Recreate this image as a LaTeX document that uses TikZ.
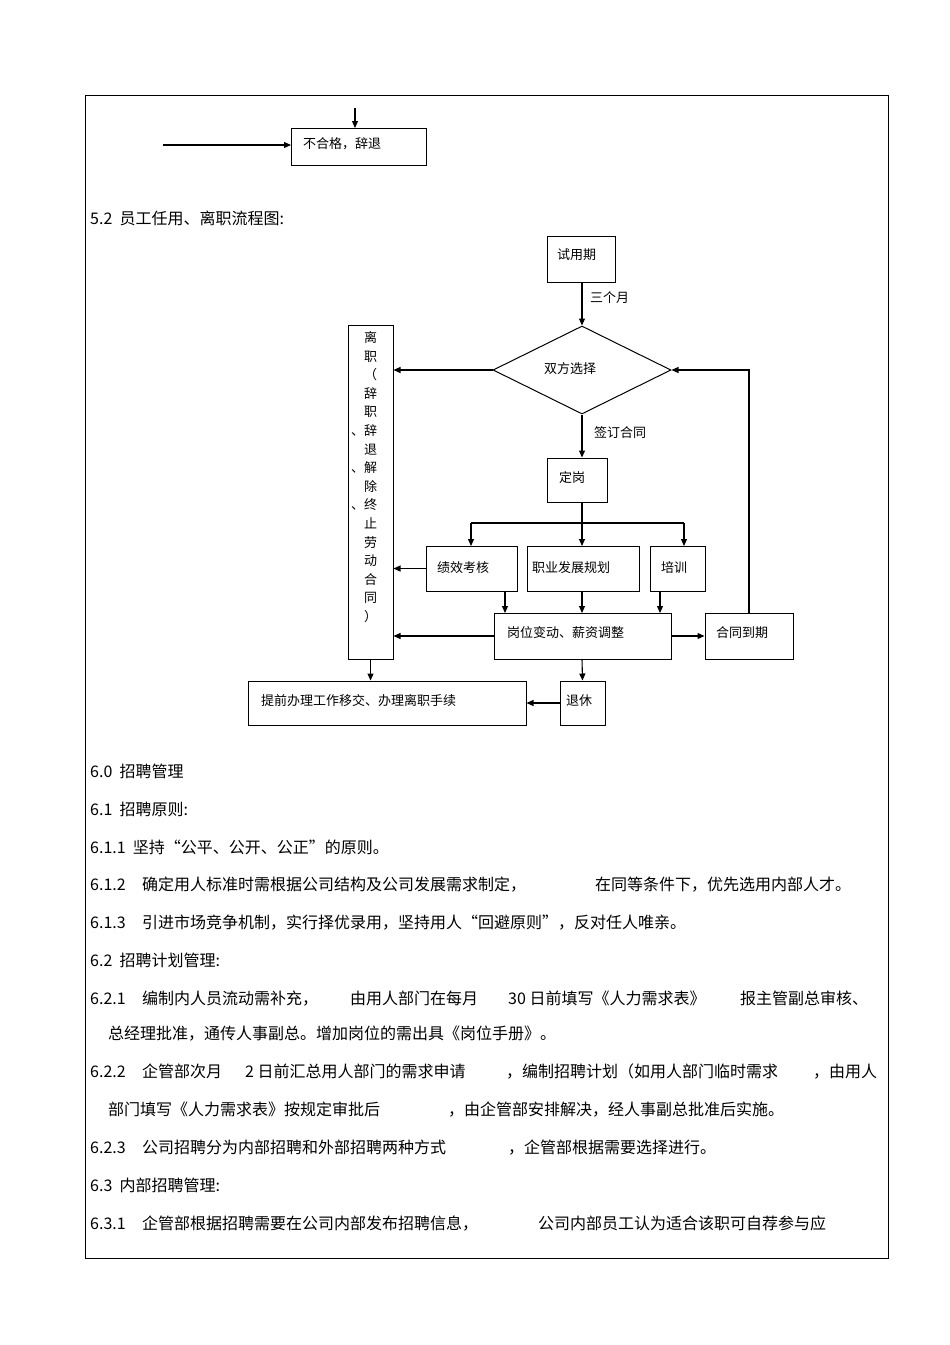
\documentclass[tikz,border=0pt]{standalone}
\usepackage{fontspec}
\setmainfont{Liberation Sans}
\newfontfamily\cjk{Noto Sans CJK SC}
\usetikzlibrary{arrows.meta,shapes.geometric}
\begin{document}
\begin{tikzpicture}[x=1pt,y=-1pt,
  bx/.style={draw,line width=1pt,inner sep=0pt,font=\cjk\fontsize{13}{15}\selectfont},
  ar/.style={-{Triangle[length=7pt,width=6pt]},line width=1.1pt},
  ln/.style={line width=1.1pt},
  tx/.style={anchor=base west,inner sep=0pt,font=\cjk\fontsize{16}{18}\selectfont},
  lb/.style={anchor=west,inner sep=0pt,font=\cjk\fontsize{13}{15}\selectfont}]
\useasboundingbox (0,0) rectangle (950,1345);
\draw[line width=0.8pt] (85,95) rectangle (888,1258);
% top fragment
\coordinate (t0) at (355,108);
\coordinate (h0) at (163,145);
\node[bx,minimum width=135pt,minimum height=37pt,anchor=north west] (bhg) at (291,128) {};
\node[lb] at (303,144) {不合格，辞退};
\draw[ar] (t0) -- (bhg.north -| t0);
\draw[ar] (h0) -- (bhg.west |- h0);
\node[tx] at (90,224) {5.2\ \ 员工任用、离职流程图:};
% flowchart
\node[bx,minimum width=68pt,minimum height=46pt] (syq) at (581,259) {};
\node[lb] at (557,255) {试用期};
\node[bx,diamond,minimum width=178pt,minimum height=88pt,aspect=2.02] (sx) at (582,370) {};
\node[bx,minimum width=45pt,minimum height=334pt] (lz) at (370.5,492) {};
\node[font=\cjk\fontsize{13}{18.6}\selectfont,align=center,anchor=north] at (370.5,328) {离\\职\\（\\辞\\职\\\llap{、}辞\\退\\\llap{、}解\\除\\\llap{、}终\\止\\劳\\动\\合\\同\\）};
\node[bx,minimum width=60pt,minimum height=44pt] (dg) at (577,480) {};
\node[bx,minimum width=91pt,minimum height=45pt] (jx) at (471.5,568.5) {};
\node[bx,minimum width=112pt,minimum height=45pt] (zy) at (583,568.5) {};
\node[bx,minimum width=55pt,minimum height=45pt] (px) at (677.5,568.5) {};
\node[bx,minimum width=177pt,minimum height=46pt] (gw) at (582.5,636) {};
\node[bx,minimum width=88pt,minimum height=46pt] (ht) at (749,636) {};
\node[bx,minimum width=45pt,minimum height=44pt] (tx) at (582.5,703) {};
\node[bx,minimum width=278pt,minimum height=44pt] (tq) at (387,703) {};
\node[lb] at (544,369) {双方选择};
\node[lb] at (559,478) {定岗};
\node[lb] at (437,568) {绩效考核};
\node[lb] at (532,568) {职业发展规划};
\node[lb] at (661,568) {培训};
\node[lb] at (507,633) {岗位变动、薪资调整};
\node[lb] at (716,633) {合同到期};
\node[lb] at (566,701) {退休};
\node[lb] at (261,701) {提前办理工作移交、办理离职手续};
\node[lb] at (590,298) {三个月};
\node[lb] at (594,433) {签订合同};
\draw[ar] (syq.south -| sx.north) -- (sx.north);
\draw[ar] (sx.west) -- (lz.east |- sx.west);
\draw[ar] (sx.south) -- (sx.south |- dg.north);
\coordinate (br) at (582,523);
\draw[ln] (sx.south |- dg.south) -- (br);
\draw[ln] (471,523) -- (684,523);
\draw[ar] (471,523) -- (471,546);
\draw[ar] (br) -- (582,546);
\draw[ar] (684,523) -- (684,546);
\draw[ar] (jx.west) -- (lz.east |- jx.west);
\draw[ar] (505,591) -- (505,613);
\draw[ar] (582,591) -- (582,613);
\draw[ar] (660,591) -- (660,613);
\draw[ar] (gw.west) -- (lz.east |- gw.west);
\draw[ar] (gw.east) -- (ht.west);
\draw[ar] (ht.north) -- (ht.north |- sx.east) -- (sx.east);
\draw[ar] (582,659) -- (tx.north);
\draw[ar] (tx.west) -- (tq.east);
\draw[ar] (lz.south) -- (lz.south |- tq.north);
% body text
\node[tx] at (90,777) {6.0\ \ 招聘管理};
\node[tx] at (90,815) {6.1\ \ 招聘原则:};
\node[tx] at (90,853) {6.1.1\ \ 坚持“公平、公开、公正”的原则。};
\node[tx] at (90,890) {6.1.2};
\node[tx] at (142,890) {确定用人标准时需根据公司结构及公司发展需求制定，};
\node[tx] at (595,890) {在同等条件下，优先选用内部人才。};
\node[tx] at (90,928) {6.1.3};
\node[tx] at (142,928) {引进市场竞争机制，实行择优录用，坚持用人“回避原则”，反对任人唯亲。};
\node[tx] at (90,966) {6.2\ \ 招聘计划管理:};
\node[tx] at (90,1004) {6.2.1};
\node[tx] at (142,1004) {编制内人员流动需补充，};
\node[tx] at (350,1004) {由用人部门在每月};
\node[tx] at (508,1004) {30 日前填写《人力需求表》};
\node[tx] at (740,1004) {报主管副总审核、};
\node[tx] at (108,1039) {总经理批准，通传人事副总。增加岗位的需出具《岗位手册》。};
\node[tx] at (90,1077) {6.2.2};
\node[tx] at (142,1077) {企管部次月};
\node[tx] at (245,1077) {2 日前汇总用人部门的需求申请};
\node[tx] at (506,1077) {，编制招聘计划（如用人部门临时需求};
\node[tx] at (813,1077) {，由用人};
\node[tx] at (108,1115) {部门填写《人力需求表》按规定审批后};
\node[tx] at (448,1115) {，由企管部安排解决，经人事副总批准后实施。};
\node[tx] at (90,1153) {6.2.3};
\node[tx] at (142,1153) {公司招聘分为内部招聘和外部招聘两种方式};
\node[tx] at (508,1153) {，企管部根据需要选择进行。};
\node[tx] at (90,1191) {6.3\ \ 内部招聘管理:};
\node[tx] at (90,1229) {6.3.1};
\node[tx] at (142,1229) {企管部根据招聘需要在公司内部发布招聘信息，};
\node[tx] at (538,1229) {公司内部员工认为适合该职可自荐参与应};
\end{tikzpicture}
\end{document}
